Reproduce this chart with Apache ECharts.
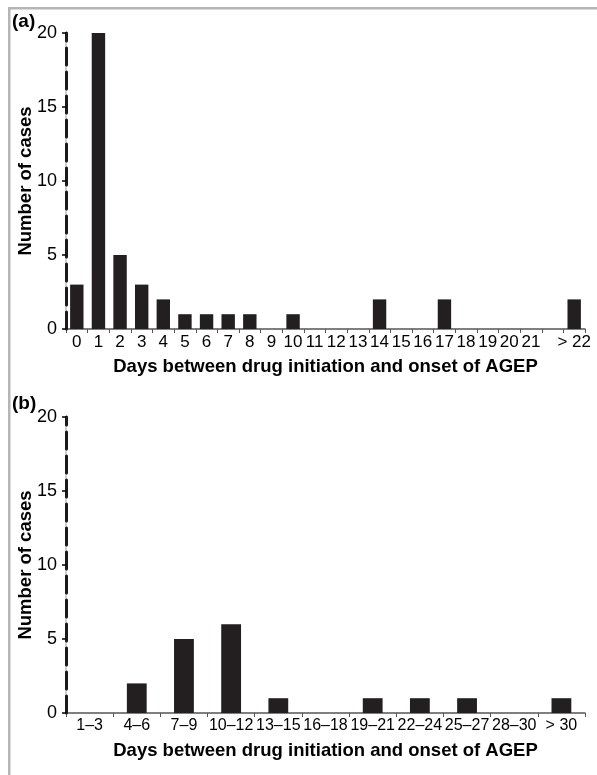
<!DOCTYPE html>
<html>
<head>
<meta charset="utf-8">
<script src="https://cdn.jsdelivr.net/npm/echarts@6/dist/echarts.min.js"></script>
<style>
  html, body { margin: 0; padding: 0; background: #fff; }
  #main { width: 597px; height: 775px; }
</style>
</head>
<body>
<div id="main"></div>
<script>
// panel (a): single days
const daysA = ['0','1','2','3','4','5','6','7','8','9','10','11','12','13','14','15','16','17','18','19','20','21','','> 22']
const casesA = [3, 20, 5, 3, 2, 1, 1, 1, 1, 0, 1, 0, 0, 0, 2, 0, 0, 2, 0, 0, 0, 0, 0, 2]
// panel (b): 3-day groups
const daysB = ['1\u20133','4\u20136','7\u20139','10\u201312','13\u201315','16\u201318','19\u201321','22\u201324','25\u201327','28\u201330','> 30']
const casesB = [0, 2, 5, 6, 1, 0, 1, 1, 1, 0, 1]
const yTicks = [0, 5, 10, 15, 20]

const font = "'Liberation Sans', Arial, Helvetica, sans-serif"
const barColor = '#231f20'
const xName = 'Days between drug initiation and onset of AGEP'
const yName = 'Number of cases'

const chart = echarts.init(document.getElementById('main'))

function makeX(idx, data, labelSize) {
  return {
    type: 'category',
    gridIndex: idx,
    data: data,
    name: xName,
    nameLocation: 'middle',
    nameGap: 28,
    nameMoveOverlap: false,
    nameTextStyle: { fontFamily: font, fontSize: 18.5, fontWeight: 'bold', color: '#000' },
    axisLine: { lineStyle: { color: '#555', width: 1.5 } },
    axisTick: { show: true, length: 4, alignWithLabel: false, lineStyle: { color: '#555' } },
    axisLabel: { interval: 0, margin: 5, fontFamily: font, fontSize: labelSize, color: '#000' }
  }
}

function makeY(idx) {
  return {
    type: 'value',
    gridIndex: idx,
    position: 'left',
    min: yTicks[0],
    max: yTicks[yTicks.length - 1],
    interval: 5,
    name: yName,
    nameLocation: 'middle',
    nameRotate: 90,
    nameGap: 31,
    nameMoveOverlap: false,
    nameTextStyle: { fontFamily: font, fontSize: 18.5, fontWeight: 'bold', color: '#000' },
    splitLine: { show: false },
    axisLine: { show: true, lineStyle: { color: '#1a1a1a', width: 3, type: [17, 7] } },
    axisTick: { show: true, length: 4, lineStyle: { color: '#000', width: 1.5 } },
    axisLabel: { margin: 9, fontFamily: font, fontSize: 18, color: '#000' },
    z: 3
  }
}

// gray solid line under the dashed y axis
function makeYGray(idx) {
  return {
    type: 'value',
    gridIndex: idx,
    position: 'left',
    min: 0,
    max: 20,
    interval: 5,
    splitLine: { show: false },
    axisLine: { show: true, lineStyle: { color: '#c4c4c4', width: 1.5 } },
    axisTick: { show: false },
    axisLabel: { show: false },
    z: 1
  }
}

const option = {
  animation: false,
  backgroundColor: '#fff',
  textStyle: { fontFamily: font },
  graphic: [
    { type: 'rect', shape: { x: 8, y: 7, width: 2.5, height: 768 }, style: { fill: '#b5b5b5' } },
    { type: 'rect', shape: { x: 8, y: 7, width: 589, height: 2.5 }, style: { fill: '#b5b5b5' } },
    { type: 'text', left: 12, top: 12, style: { text: '(a)', font: 'bold 19px ' + font, fill: '#000' } },
    { type: 'text', left: 12, top: 394, style: { text: '(b)', font: 'bold 19px ' + font, fill: '#000' } }
  ],
  grid: [
    { left: 66, top: 33, width: 519, height: 296 },
    { left: 66, top: 417, width: 519, height: 296 }
  ],
  xAxis: [makeX(0, daysA, 17), makeX(1, daysB, 16)],
  yAxis: [makeY(0), makeY(1), makeYGray(0), makeYGray(1)],
  series: [
    {
      type: 'bar',
      xAxisIndex: 0,
      yAxisIndex: 0,
      data: casesA,
      barWidth: '62%',
      itemStyle: { color: barColor }
    },
    {
      type: 'bar',
      xAxisIndex: 1,
      yAxisIndex: 1,
      data: casesB,
      barWidth: '42%',
      itemStyle: { color: barColor }
    }
  ]
}

chart.setOption(option)
</script>
</body>
</html>
